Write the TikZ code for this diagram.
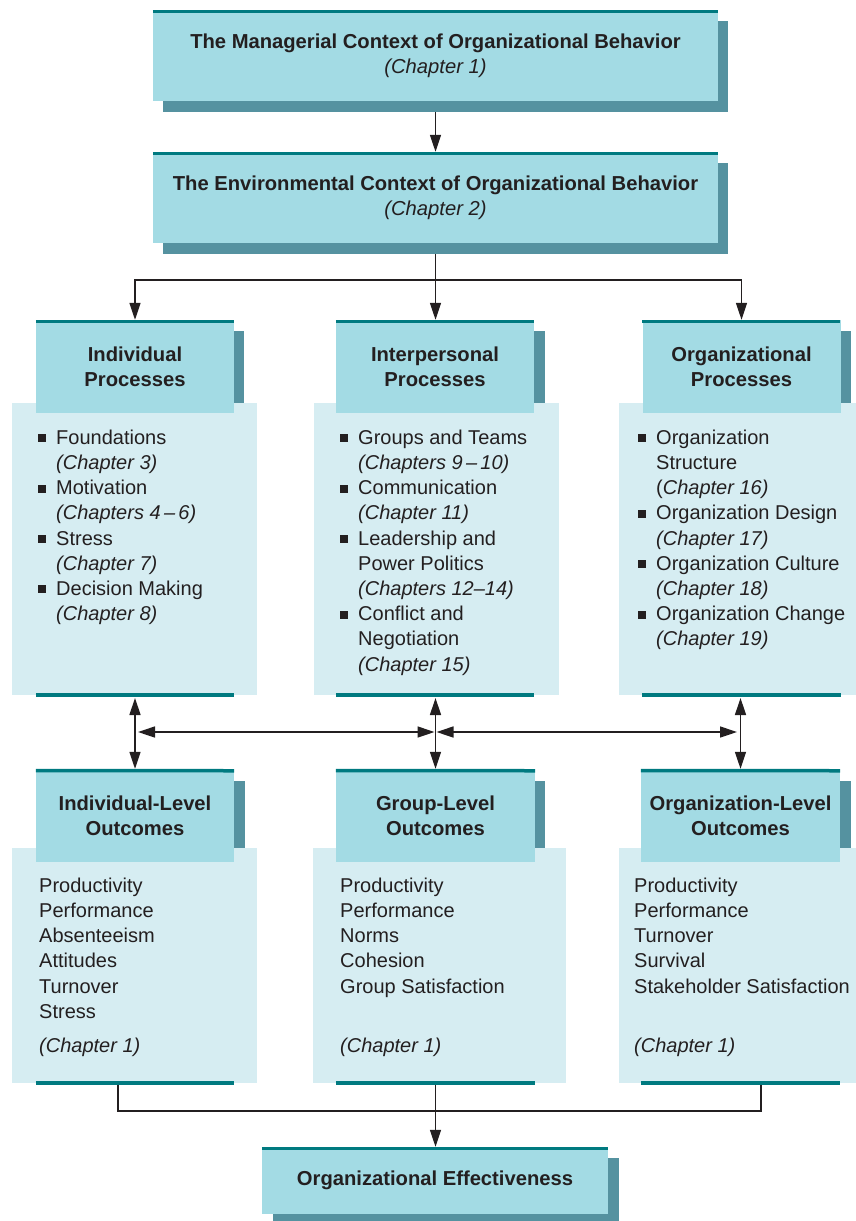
\documentclass[tikz,border=0pt]{standalone}
\usepackage{fontspec}
\setmainfont{Liberation Sans}
\usetikzlibrary{arrows.meta}

\definecolor{hdrfill}{HTML}{A3DBE4}
\definecolor{shadowteal}{HTML}{5592A0}
\definecolor{tealrule}{HTML}{007A80}
\definecolor{bodyfill}{HTML}{D6EDF2}
\definecolor{ink}{HTML}{231F20}

% list helpers: square bullet and matching indent
\newcommand{\bul}{\makebox[18pt][l]{\rule[2pt]{8pt}{8pt}}}
\newcommand{\ind}{\hspace*{18pt}}

\begin{document}
\begin{tikzpicture}[x=1pt,y=-1pt,
  hdr/.style={fill=hdrfill, inner sep=0pt, align=center, text=ink,
    font=\bfseries\fontsize{20.2}{25}\selectfont},
  bodybox/.style={fill=bodyfill, inner sep=0pt},
  txt/.style={inner sep=0pt, anchor=north west, text=ink,
    font=\fontsize{20}{25.2}\selectfont},
  topline/.style={draw=tealrule, line width=3.5pt},
  botline/.style={draw=tealrule, line width=4pt},
  arr/.style={draw=ink, line width=1.4pt, -{Triangle[length=17pt,width=11pt]}},
  darr/.style={draw=ink, line width=1.4pt, {Triangle[length=17pt,width=11pt]}-{Triangle[length=17pt,width=11pt]}},
  link/.style={draw=ink, line width=1.4pt},
  ]
\useasboundingbox (0,0) rectangle (856,1221);

% ---------- drop shadows ----------
\fill[shadowteal] (163,21) rectangle (728,112);
\fill[shadowteal] (163,163) rectangle (728,254);
\fill[shadowteal] (46,331) rectangle (244,424);
\fill[shadowteal] (347,331) rectangle (545,424);
\fill[shadowteal] (652,331) rectangle (851,424);
\fill[shadowteal] (46,781) rectangle (245,872);
\fill[shadowteal] (346,781) rectangle (545,872);
\fill[shadowteal] (651,781) rectangle (851,872);
\fill[shadowteal] (273,1158) rectangle (619,1221);

% ---------- context boxes ----------
\node[hdr, minimum width=565pt, minimum height=91pt] (ctx1) at (435.5,55.5)
  {The Managerial Context of Organizational Behavior\\ \mdseries\itshape (Chapter 1)};
\node[hdr, minimum width=565pt, minimum height=91pt] (ctx2) at (435.5,197.5)
  {The Environmental Context of Organizational Behavior\\ \mdseries\itshape (Chapter 2)};
\draw[topline] (ctx1.north west) ++(0,1.75) -- ++(565,0);
\draw[topline] (ctx2.north west) ++(0,1.75) -- ++(565,0);

% ---------- process bodies ----------
\node[bodybox, minimum width=245pt, minimum height=292pt] (pb1) at (134.5,549) {};
\node[bodybox, minimum width=245pt, minimum height=292pt] (pb2) at (436.5,549) {};
\node[bodybox, minimum width=237pt, minimum height=292pt] (pb3) at (737.5,549) {};

% ---------- process headers ----------
\node[hdr, minimum width=198pt, minimum height=93pt] (ph1) at (135,366.5) {Individual\\Processes};
\node[hdr, minimum width=198pt, minimum height=93pt] (ph2) at (435,366.5) {Interpersonal\\Processes};
\node[hdr, minimum width=198pt, minimum height=93pt] (ph3) at (741.5,366.5) {Organizational\\Processes};
\foreach \h in {ph1,ph2,ph3}{
  \draw[topline] (\h.north west) ++(0,1.75) -- ++(198,0);
  \draw[botline] (\h.west |- pb1.south) -- (\h.east |- pb1.south);
}

% ---------- process lists ----------
\node[txt] (pl1) at (38,426.4) {\begin{tabular}[t]{@{}l@{}}
\bul Foundations\\
\ind\textit{(Chapter 3)}\\
\bul Motivation\\
\ind\textit{(Chapters 4\,–\,6)}\\
\bul Stress\\
\ind\textit{(Chapter 7)}\\
\bul Decision Making\\
\ind\textit{(Chapter 8)}
\end{tabular}};
\node[txt] (pl2) at (340,426.4) {\begin{tabular}[t]{@{}l@{}}
\bul Groups and Teams\\
\ind\textit{(Chapters 9\,–\,10)}\\
\bul Communication\\
\ind\textit{(Chapter 11)}\\
\bul Leadership and\\
\ind Power Politics\\
\ind\textit{(Chapters 12–14)}\\
\bul Conflict and\\
\ind Negotiation\\
\ind\textit{(Chapter 15)}
\end{tabular}};
\node[txt] (pl3) at (638,426.4) {\begin{tabular}[t]{@{}l@{}}
\bul Organization\\
\ind Structure\\
\ind(\textit{Chapter 16)}\\
\bul Organization Design\\
\ind\textit{(Chapter 17)}\\
\bul Organization Culture\\
\ind\textit{(Chapter 18)}\\
\bul Organization Change\\
\ind\textit{(Chapter 19)}
\end{tabular}};

% ---------- outcome bodies ----------
\node[bodybox, minimum width=245pt, minimum height=235pt] (ob1) at (134.5,965.5) {};
\node[bodybox, minimum width=253pt, minimum height=235pt] (ob2) at (439.5,965.5) {};
\node[bodybox, minimum width=237pt, minimum height=235pt] (ob3) at (737.5,965.5) {};

% ---------- outcome headers ----------
\node[hdr, minimum width=198pt, minimum height=93pt] (oh1) at (135,815.5) {Individual-Level\\Outcomes};
\node[hdr, minimum width=199pt, minimum height=93pt] (oh2) at (435.5,815.5) {Group-Level\\Outcomes};
\node[hdr, minimum width=199pt, minimum height=93pt] (oh3) at (740.5,815.5) {Organization-Level\\Outcomes};
\foreach \h in {oh1,oh2,oh3}{
  \draw[topline] (\h.north west) ++(0,1.75) -- (\h.north east |- 0,770.75);
  \draw[botline] (\h.west |- ob1.south) -- (\h.east |- ob1.south);
}

% ---------- outcome lists ----------
\node[txt] (ol1) at (39,874.4) {\begin{tabular}[t]{@{}l@{}}
Productivity\\ Performance\\ Absenteeism\\ Attitudes\\ Turnover\\ Stress\\[8.8pt]
\textit{(Chapter 1)}
\end{tabular}};
\node[txt] (ol2) at (340,874.4) {\begin{tabular}[t]{@{}l@{}}
Productivity\\ Performance\\ Norms\\ Cohesion\\ Group Satisfaction\\ \\[8.8pt]
\textit{(Chapter 1)}
\end{tabular}};
\node[txt] (ol3) at (634,874.4) {\begin{tabular}[t]{@{}l@{}}
Productivity\\ Performance\\ Turnover\\ Survival\\ Stakeholder Satisfaction\\ \\[8.8pt]
\textit{(Chapter 1)}
\end{tabular}};

% ---------- effectiveness box ----------
\node[hdr, minimum width=346pt, minimum height=67pt] (eff) at (435,1180.5) {Organizational Effectiveness};
\draw[topline] (eff.north west) ++(0,1.75) -- ++(346,0);

% ---------- connectors: top ----------
\draw[arr] ([yshift=-11pt]ctx1.south) -- (ctx2.north);
\coordinate (br) at (435.5,280);
\draw[link] ([yshift=-11pt]ctx2.south) -- (br);
\draw[arr] (br) -| (ph1.north);
\draw[arr] (br) -- (br |- ph2.north);
\draw[arr] (br) -| (ph3.north);

% ---------- connectors: processes to outcomes ----------
\coordinate (v1) at (135,698);
\coordinate (v2) at (435.5,698);
\coordinate (v3) at (740.5,698);
\draw[darr] (v1) -- (v1 |- oh1.north);
\draw[darr] (v2) -- (v2 |- oh2.north);
\draw[darr] (v3) -- (v3 |- oh3.north);
\coordinate (h1) at (138,732);
\coordinate (h2l) at (434.5,732);
\coordinate (h2r) at (436.5,732);
\coordinate (h3) at (737,732);
\draw[darr] (h1) -- (h2l);
\draw[darr] (h2r) -- (h3);

% ---------- connectors: outcomes to effectiveness ----------
\coordinate (b1) at (118,1084.5);
\coordinate (b2) at (435.5,1084.5);
\coordinate (b3) at (761,1084.5);
\coordinate (bj) at (435.5,1111);
\draw[link] (b1) |- (bj) -| (b3);
\draw[arr] (b2) -- (b2 |- eff.north);
\end{tikzpicture}
\end{document}
